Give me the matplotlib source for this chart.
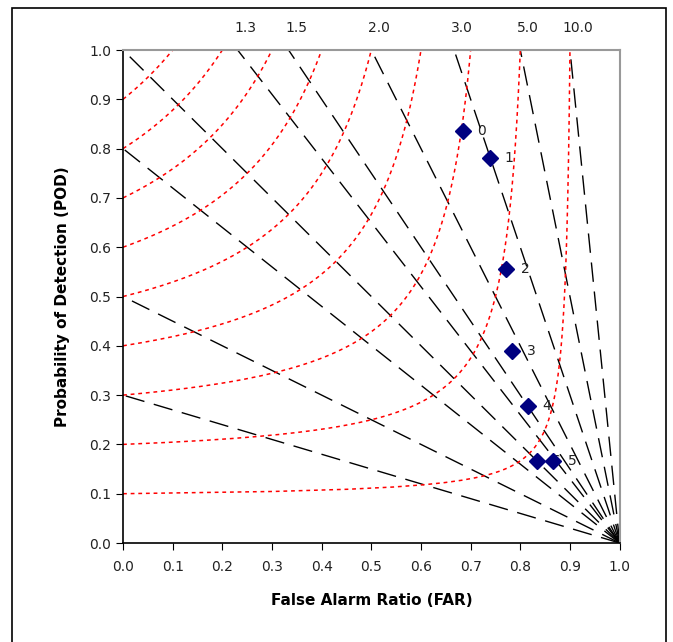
import numpy as np
import matplotlib.pyplot as plt
from matplotlib.patches import Rectangle

# verification points (FAR, POD) and their labels
far = [0.684, 0.738, 0.771, 0.783, 0.815, 0.865, 0.833]
pod = [0.836, 0.781, 0.556, 0.389, 0.278, 0.166, 0.166]
labels = ["0", "1", "2", "3", "4", "5", "6"]

# reference lines
bias_low = [1.0, 0.8, 0.5, 0.3]
bias_high = [1.3, 1.5, 2.0, 3.0, 5.0, 10.0]
bias_names = ["1.3", "1.5", "2.0", "3.0", "5.0", "10.0"]
csi_levels = [0.1, 0.2, 0.3, 0.4, 0.5, 0.6, 0.7, 0.8, 0.9]

fig = plt.figure(figsize=(6.73, 6.42), dpi=100)
ax = fig.add_axes([0.1828, 0.1542, 0.7379, 0.7679])

# outer frame
fig.patches.append(Rectangle((12 / 673, -0.05), 654 / 673, 1 - 8 / 642 + 0.05,
                             transform=fig.transFigure, fill=False,
                             edgecolor="black", linewidth=1.2))

# bias lines, all fanning out from (1, 0)
for b in bias_low:
    ax.plot([1, 0], [0, b], color="black", lw=1.0, dashes=(14, 7), zorder=2)
for b, name in zip(bias_high, bias_names):
    x_top = 1 - 1 / b
    ax.plot([1, x_top], [0, 1], color="black", lw=1.0, dashes=(14, 7), zorder=2)
    ax.text(x_top + 0.015, 1.03, name, ha="center", va="bottom", fontsize=10,
            color="#222222", clip_on=False)

# CSI contours
for c in csi_levels:
    p = np.linspace(c, 1, 200)
    x = 1 - 1 / (1 / c - 1 / p + 1)
    ax.plot(x, p, color="#ff0000", lw=1.1, dashes=(2.5, 2.5), zorder=2)

# labels go under the markers
for x, y, t in zip(far, pod, labels):
    ax.text(x + 0.03, y, t, ha="left", va="center", fontsize=10,
            color="#222222", zorder=3)
ax.plot(far, pod, ls="none", marker="D", ms=8, color="#000080", zorder=4)

ax.set_xlim(0, 1)
ax.set_ylim(0, 1)
ax.set_xticks(np.arange(0, 1.01, 0.1))
ax.set_yticks(np.arange(0, 1.01, 0.1))
ax.xaxis.set_major_formatter(plt.FormatStrFormatter("%.1f"))
ax.yaxis.set_major_formatter(plt.FormatStrFormatter("%.1f"))
ax.tick_params(direction="out", length=5, labelsize=10, color="black",
               labelcolor="#222222")
ax.tick_params(axis="x", pad=7)
for side in ["top", "right"]:
    ax.spines[side].set_color("#999999")
    ax.spines[side].set_linewidth(1.5)
for side in ["left", "bottom"]:
    ax.spines[side].set_linewidth(1.2)

ax.set_xlabel("False Alarm Ratio (FAR)", fontsize=11, fontweight="bold",
              labelpad=14)
ax.set_ylabel("Probability of Detection (POD)", fontsize=11, fontweight="bold",
              labelpad=14)

fig.savefig("out.png", dpi=100)
